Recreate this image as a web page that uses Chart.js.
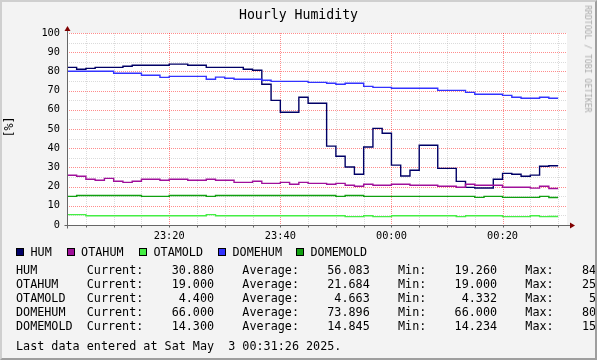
<!DOCTYPE html>
<html><head><meta charset="utf-8">
<script src="https://cdn.jsdelivr.net/npm/chart.js@4"></script>
<style>
html,body{margin:0;padding:0;background:#f3f3f3;}
#wrap{position:relative;width:597px;height:360px;overflow:hidden;background:#f3f3f3;}
#frame{position:absolute;left:0;top:0;width:597px;height:360px;box-sizing:border-box;border-top:2px solid #cfcfcf;border-left:2px solid #cfcfcf;border-right:2px solid #9e9e9e;border-bottom:2px solid #9e9e9e;pointer-events:none;}
canvas{position:absolute;left:0;top:0;}
.t{position:absolute;font-family:"DejaVu Sans Mono",monospace;white-space:pre;color:#000;line-height:1;}
.box{position:absolute;width:8px;height:8px;box-sizing:border-box;border:1px solid #000;}
</style></head><body>
<div id="wrap">
<canvas id="c" width="597" height="360"></canvas>
<div id="txt"></div>
<div id="frame"></div>
</div>
<script>
// ---- data ----
const seriesNames = ["HUM","OTAHUM","OTAMOLD","DOMEHUM","DOMEMOLD"];
const seriesColors = ["#000066","#a0109a","#44ee44","#3333ff","#10a010"];
const sampleStepMin = 100/60;          // 100 s per sample
const firstSampleMin = 100/60;         // minutes after 23:00
const HUM = [82.1,81.1,81.6,82.1,82.1,82.1,82.7,83.2,83.2,83.2,83.2,83.8,83.8,83.2,83.2,82.1,82.1,82.1,82.1,81.1,80.6,73.3,64.9,58.7,58.7,66.5,63.4,63.4,41.1,35.8,30.2,26.4,40.6,50.3,47.8,31.2,25.5,28.5,41.5,41.5,29.5,29.5,22.7,19.6,19.3,19.3,23.8,26.9,26.4,25.4,26.0,30.6,30.88];
const OTAHUM = [25.9,25.4,23.8,23.3,24.3,22.8,22.2,22.8,23.8,23.8,23.3,23.8,23.8,23.3,23.3,23.8,23.3,23.3,22.2,22.2,22.8,21.7,21.7,22.2,21.2,22.2,21.7,21.7,21.2,21.7,20.7,20.2,21.2,20.7,20.7,21.2,21.2,20.7,20.7,20.7,20.2,20.2,19.7,21.2,20.7,20.7,20.7,19.7,19.7,19.7,19.2,20.2,19.0];
const OTAMOLD = [5.4,5.4,4.8,4.8,4.8,4.8,4.8,4.8,4.8,4.8,4.8,4.8,4.8,4.8,4.8,5.4,4.8,4.8,4.8,4.8,4.8,4.8,4.8,4.8,4.8,4.8,4.8,4.8,4.8,4.8,4.35,4.35,4.8,4.35,4.35,4.8,4.8,4.8,4.8,4.8,4.8,4.8,4.35,4.8,4.8,4.8,4.8,4.35,4.35,4.35,4.8,4.35,4.4];
const DOMEHUM = [80.1,80.1,80.1,80.1,80.1,79.0,79.0,79.0,78.0,78.0,76.9,77.4,77.4,77.4,77.4,75.9,77.0,76.4,75.9,75.9,75.9,75.4,74.8,74.8,74.8,74.8,74.3,74.3,73.8,73.3,73.8,73.8,72.2,71.7,71.7,71.2,71.2,71.2,71.2,71.2,70.1,70.1,70.1,69.1,68.1,68.1,68.1,67.5,66.5,66.0,66.0,66.5,66.0];
const DOMEMOLD = [14.9,15.4,15.4,15.4,15.4,15.4,15.4,15.4,14.9,14.9,14.9,15.4,15.4,15.4,15.4,14.9,15.4,15.4,15.4,15.4,15.4,15.4,15.4,15.4,15.4,15.4,15.4,15.4,15.4,14.9,15.4,15.4,14.9,14.9,14.9,14.9,14.9,14.9,14.9,14.9,14.9,14.9,14.9,14.9,14.4,14.9,14.9,14.4,14.4,14.4,14.4,14.9,14.3];
const seriesValues = [HUM,OTAHUM,OTAMOLD,DOMEHUM,DOMEMOLD];

const xMin = 1.6, xMax = 91.6;               // minutes after 23:00
const xTickValues = [20,40,60,80];
const xTickLabels = ["23:20","23:40","00:00","00:20"];
const yMin = 0, yMax = 100;

const statCurrent = [30.880,19.000,4.400,66.000,14.300];
const statAverage = [56.083,21.684,4.663,73.896,14.845];
const statMin     = [19.260,19.000,4.332,66.000,14.234];
const statMaxShown= ["84","25","5","80","15"];
const titleText = "Hourly Humidity";
const unitText = "[%]";
const footerText = "Last data entered at Sat May  3 00:31:26 2025.";
const watermarkText = "RRDTOOL / TOBI OETIKER";

// ---- text overlay ----
const txt = document.getElementById('txt');
function addText(s, left, baseline, size, extra){
  const d = document.createElement('div');
  d.className='t'; d.textContent=s;
  d.style.fontSize=size+'px';
  d.style.left=left+'px';
  d.style.top=(baseline-0.846*size)+'px';
  if(extra) Object.assign(d.style, extra);
  txt.appendChild(d); return d;
}
const LF = 11.76;
addText(titleText, 0, 19.1, 13.2, {width:'597px',textAlign:'center'});
const ul = document.createElement('div'); ul.className='t'; ul.textContent=unitText;
Object.assign(ul.style,{fontSize:LF+'px',left:'10px',top:'127px',transform:'translate(-50%,-50%) rotate(-90deg)'});
txt.appendChild(ul);
const wm = document.createElement('div'); wm.className='t'; wm.textContent=watermarkText;
Object.assign(wm.style,{fontSize:'8.1px',left:'588px',top:'59px',color:'#aaaaaa',transform:'translate(-50%,-50%) rotate(90deg)'});
txt.appendChild(wm);
const legBoxX = [16,66.6,139,218,296];
seriesNames.forEach((n,i)=>{
  const b=document.createElement('div'); b.className='box';
  b.style.left=legBoxX[i]+'px'; b.style.top='248.3px'; b.style.background=seriesColors[i];
  txt.appendChild(b);
  addText(n, legBoxX[i]+14.5, 256.6, LF);
});
seriesNames.forEach((n,i)=>{
  const s = n.padEnd(10)+'Current:'+statCurrent[i].toFixed(3).padStart(10)
    +'    Average:'+statAverage[i].toFixed(3).padStart(10)
    +'    Min:'+statMin[i].toFixed(3).padStart(10)
    +'    Max:'+statMaxShown[i].padStart(6);
  addText(s, 16, 275+i*13.9, LF);
});
addText(footerText, 16, 351, LF);

// ---- chart ----
function pts(vals){
  const p = vals.map((v,i)=>({x:firstSampleMin+i*sampleStepMin, y:v}));
  p.push({x:firstSampleMin+vals.length*sampleStepMin, y:vals[vals.length-1]});
  return p;
}
const rrd = {
  id:'rrd',
  beforeDraw(chart){
    const {ctx, chartArea:a} = chart;
    ctx.save(); ctx.fillStyle='#ffffff';
    ctx.fillRect(a.left,a.top,a.right-a.left,a.bottom-a.top); ctx.restore();
  },
  beforeDatasetsDraw(chart){
    const {ctx, chartArea:a, scales:{x,y}} = chart;
    ctx.save(); ctx.lineWidth=1; ctx.setLineDash([1,1]);
    const minorC='rgba(160,160,160,0.38)', majorC='rgba(255,0,0,0.45)';
    for(let v=5; v<xMax; v+=5){
      const px=Math.round(x.getPixelForValue(v))+0.5;
      ctx.strokeStyle = (v%20===0)?majorC:minorC;
      ctx.beginPath(); ctx.moveTo(px,a.top); ctx.lineTo(px,a.bottom); ctx.stroke();
    }
    for(let v=5; v<=yMax; v+=5){
      const py=Math.round(y.getPixelForValue(v))+0.5;
      ctx.strokeStyle = (v%10===0)?majorC:minorC;
      ctx.beginPath(); ctx.moveTo(a.left,py); ctx.lineTo(a.right,py); ctx.stroke();
    }
    ctx.restore();
  },
  afterDatasetsDraw(chart){
    const {ctx, chartArea:a, scales:{x,y}} = chart;
    ctx.save(); ctx.setLineDash([]); ctx.lineWidth=1;
    const ax = Math.round(a.left)+0.5, ay = Math.round(a.bottom)+0.5;
    ctx.strokeStyle='#666';
    for(let v=5; v<xMax; v+=5){
      const px=Math.round(x.getPixelForValue(v))+0.5;
      ctx.beginPath(); ctx.moveTo(px,ay); ctx.lineTo(px,ay+2); ctx.stroke();
    }
    ctx.beginPath(); ctx.moveTo(ax-3,ay); ctx.lineTo(a.right+3,ay); ctx.stroke();
    ctx.beginPath(); ctx.moveTo(ax,ay+3); ctx.lineTo(ax,a.top-3); ctx.stroke();
    ctx.fillStyle='#800000';
    ctx.beginPath(); ctx.moveTo(ax,a.top-7); ctx.lineTo(ax-3,a.top-2); ctx.lineTo(ax+3,a.top-2); ctx.closePath(); ctx.fill();
    ctx.beginPath(); ctx.moveTo(a.right+8,ay); ctx.lineTo(a.right+3,ay-3); ctx.lineTo(a.right+3,ay+3); ctx.closePath(); ctx.fill();
    ctx.restore();
  }
};
const tickFont = {family:'DejaVu Sans Mono', size:10.3};
new Chart(document.getElementById('c'), {
  type:'line',
  data:{ datasets: seriesNames.map((n,i)=>({
    label:n, data:pts(seriesValues[i]), borderColor:seriesColors[i], backgroundColor:seriesColors[i],
    borderWidth:1.4, pointRadius:0, stepped:'before', fill:false, tension:0, order:seriesNames.length-i
  }))},
  options:{
    responsive:false, animation:false, devicePixelRatio:1, events:[],
    layout:{padding:{left:0,top:33,right:30,bottom:0}},
    plugins:{legend:{display:false}, tooltip:{enabled:false}, title:{display:false}},
    scales:{
      x:{type:'linear', min:xMin, max:xMax,
        afterBuildTicks:s=>{ s.ticks = xTickValues.map(v=>({value:v})); },
        afterFit:s=>{ s.height=135; },
        ticks:{autoSkip:false, maxRotation:0, minRotation:0, padding:5, font:tickFont, color:'#000',
          callback:(v,i)=>xTickLabels[i]},
        grid:{display:false, drawTicks:false}, border:{display:false}},
      y:{type:'linear', min:yMin, max:yMax,
        afterFit:s=>{ s.width=67; },
        ticks:{stepSize:10, padding:7, font:tickFont, color:'#000'},
        grid:{display:false, drawTicks:false}, border:{display:false}}
    }
  },
  plugins:[rrd]
});
</script>
</body></html>
